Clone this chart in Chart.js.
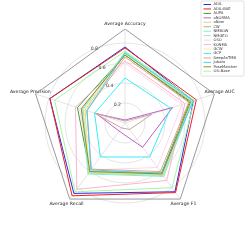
<!DOCTYPE html>
<html>
<head>
<meta charset="utf-8">
<script src="https://cdn.jsdelivr.net/npm/chart.js@4.4.0/dist/chart.umd.min.js"></script>
<style>
  html, body { margin: 0; padding: 0; background: #ffffff; }
  canvas { display: block; }
</style>
</head>
<body>
<canvas id="chart" width="245" height="245"></canvas>
<script>
// axes, clockwise from the top
const metrics = ['Average Accuracy', 'Average AUC', 'Average F1', 'Average Recall', 'Average Precision'];

const methods = ['ADIL', 'ADIL-BAE', 'AUPA', 'aNORMA', 'aNom', 'CW', 'NMBOW', 'NMGEO',
                 'OSO', 'KONMA', 'GCW', 'GCP', 'DeepAnTMB', 'Jubato', 'PoseMatcher', 'OIL-Base'];

const colors = ['#2b2bd9', '#ee2222', '#3f9f3f', '#c060c8', '#e6d46a', '#c9a3a3', '#7ff0c4', '#a6e2e2',
                '#ffd6ee', '#ffb3cf', '#f6ee9c', '#35eef8', '#d9a793', '#3fd0f2', '#8f8f1c', '#a6f5a6'];

// values per method: Accuracy, AUC, F1, Recall, Precision
const adil       = [0.76, 0.72, 0.85, 0.87, 0.79];
const adilBae    = [0.75, 0.75, 0.86, 0.90, 0.79];
const aupa       = [0.68, 0.68, 0.62, 0.60, 0.50];
const anorma     = [0.03, 0.50, 0.30, 0.10, 0.30];
const anom       = [0.70, 0.70, 0.65, 0.62, 0.42];
const cw         = [0.02, 0.28, 0.08, 0.06, 0.32];
const nmbow      = [0.71, 0.71, 0.66, 0.63, 0.45];
const nmgeo      = [0.70, 0.70, 0.64, 0.61, 0.44];
const oso        = [0.60, 0.60, 0.55, 0.58, 0.48];
const konma      = [0.62, 0.63, 0.71, 0.82, 0.52];
const gcw        = [0.69, 0.69, 0.63, 0.60, 0.43];
const gcp        = [0.45, 0.48, 0.42, 0.42, 0.32];
const deepant    = [0.66, 0.67, 0.60, 0.57, 0.40];
const jubato     = [0.70, 0.72, 0.62, 0.58, 0.40];
const poseMatch  = [0.68, 0.69, 0.63, 0.60, 0.46];
const oilBase    = [0.72, 0.73, 0.80, 0.85, 0.74];

const seriesValues = [adil, adilBae, aupa, anorma, anom, cw, nmbow, nmgeo,
                      oso, konma, gcw, gcp, deepant, jubato, poseMatch, oilBase];

const tickValues = [0, 0.2, 0.4, 0.6, 0.8, 0.94];
const tickLabels = ['', '0.2', '0.4', '0.6', '0.8', ''];

const FONT = 'DejaVu Sans';

// axis names, radial tick labels and legend, drawn on top of the radar
const overlay = {
    id: 'overlay',
    afterDraw(chart) {
        const ctx = chart.ctx;
        const r = chart.scales.r;

        ctx.save();
        ctx.fillStyle = '#222222';
        ctx.font = '4.6px "' + FONT + '"';
        ctx.textAlign = 'center';
        ctx.textBaseline = 'middle';
        for (let i = 0; i < metrics.length; i++) {
            const p = r.getPointPositionForValue(i, 0.995);
            ctx.fillText(metrics[i], p.x, p.y);
        }

        // radial labels sit 22.5 degrees left of the top axis
        const a = 22.5 * Math.PI / 180;
        ctx.fillStyle = '#444444';
        for (let i = 0; i < tickValues.length; i++) {
            if (!tickLabels[i]) continue;
            const d = r.getDistanceFromCenterForValue(tickValues[i]);
            ctx.fillText(tickLabels[i], r.xCenter - Math.sin(a) * d, r.yCenter - Math.cos(a) * d);
        }

        // legend box
        const bx = 201, by = 1, bw = 43, rowH = 4.45;
        const bh = methods.length * rowH + 4;
        ctx.fillStyle = 'rgba(255,255,255,0.8)';
        ctx.strokeStyle = '#d0d0d0';
        ctx.lineWidth = 0.6;
        ctx.beginPath();
        ctx.roundRect(bx, by, bw, bh, 1.2);
        ctx.fill();
        ctx.stroke();

        ctx.font = '3.7px "' + FONT + '"';
        ctx.textAlign = 'left';
        for (let i = 0; i < methods.length; i++) {
            const y = by + 3.5 + i * rowH;
            ctx.strokeStyle = colors[i];
            ctx.lineWidth = 1;
            ctx.beginPath();
            ctx.moveTo(bx + 2.5, y);
            ctx.lineTo(bx + 10, y);
            ctx.stroke();
            ctx.fillStyle = '#333333';
            ctx.fillText(methods[i], bx + 12.5, y);
        }
        ctx.restore();
    }
};

const datasets = methods.map((name, i) => ({
    label: name,
    data: seriesValues[i],
    borderColor: colors[i],
    backgroundColor: 'transparent',
    borderWidth: 1,
    pointRadius: 0,
    fill: false,
    order: methods.length - i
}));

new Chart(document.getElementById('chart').getContext('2d'), {
    type: 'radar',
    data: {
        labels: metrics,
        datasets: datasets
    },
    options: {
        responsive: false,
        animation: false,
        devicePixelRatio: 1,
        layout: {
            padding: { left: 31, right: 26, top: 29, bottom: 28 }
        },
        elements: {
            line: { tension: 0 }
        },
        scales: {
            r: {
                min: 0,
                max: 0.94,
                afterBuildTicks: function(scale) {
                    scale.ticks = tickValues.map(v => ({ value: v }));
                },
                ticks: { display: false },
                pointLabels: { display: false },
                angleLines: { color: '#d9d9d9', lineWidth: 0.7 },
                grid: {
                    circular: function(c) { return c.index < tickValues.length - 1; },
                    color: function(c) { return c.index === tickValues.length - 1 ? '#6e6e6e' : '#dadada'; },
                    lineWidth: 0.7
                }
            }
        },
        plugins: {
            legend: { display: false },
            tooltip: { enabled: false }
        }
    },
    plugins: [overlay]
});
</script>
</body>
</html>
